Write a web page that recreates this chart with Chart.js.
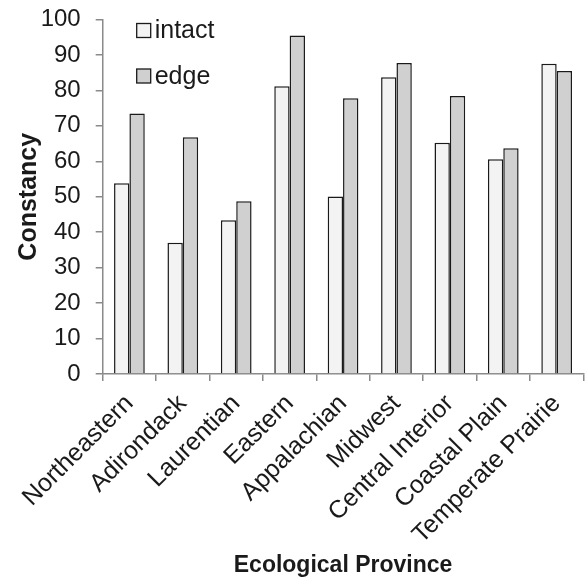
<!DOCTYPE html>
<html>
<head>
<meta charset="utf-8">
<script src="https://cdn.jsdelivr.net/npm/chart.js@4/dist/chart.umd.min.js"></script>
<style>
  html, body { margin: 0; padding: 0; background: #fff; }
  #wrap { width: 586px; height: 581px; }
</style>
</head>
<body>
<div id="wrap"><canvas id="myChart" width="586" height="581"></canvas></div>
<script>
const provinces = ["Northeastern", "Adirondack", "Laurentian", "Eastern", "Appalachian",
                   "Midwest", "Central Interior", "Coastal Plain", "Temperate Prairie"];
const intact = [53.8, 37.0, 43.4, 81.2, 50.1, 83.7, 65.2, 60.6, 87.5];
const edge   = [73.5, 66.8, 48.7, 95.5, 77.8, 87.7, 78.4, 63.7, 85.5];
const yTicks = [0, 10, 20, 30, 40, 50, 60, 70, 80, 90, 100];

const fontName = "'Liberation Sans', Arial, sans-serif";
const axisGray = "#8a8a8a";

// legend drawn inside the plot area, top left
const insideLegend = {
    id: "insideLegend",
    afterDraw(chart) {
        const ctx = chart.ctx;
        const area = chart.chartArea;
        ctx.save();
        ctx.font = "25px " + fontName;
        ctx.textBaseline = "middle";
        chart.data.datasets.forEach((ds, i) => {
            const x = area.left + 34;
            const y = area.top + 4 + i * 45.5;
            ctx.fillStyle = ds.backgroundColor;
            ctx.fillRect(x, y, 14, 14);
            ctx.strokeStyle = "#1a1a1a";
            ctx.lineWidth = 1.3;
            ctx.strokeRect(x, y, 14, 14);
            ctx.fillStyle = "#1a1a1a";
            ctx.fillText(ds.label, x + 18, y + 8);
        });
        ctx.restore();
    }
};

new Chart(document.getElementById("myChart").getContext("2d"), {
    type: "bar",
    data: {
        labels: provinces,
        datasets: [{
            label: "intact",
            data: intact,
            backgroundColor: "#f3f3f3",
            borderColor: "#1a1a1a",
            borderWidth: 1.5,
            borderSkipped: "bottom"
        }, {
            label: "edge",
            data: edge,
            backgroundColor: "#cfd0cf",
            borderColor: "#1a1a1a",
            borderWidth: 1.5,
            borderSkipped: "bottom"
        }]
    },
    options: {
        responsive: false,
        animation: false,
        layout: { padding: { top: 19.5, right: 2, left: 0, bottom: 0 } },
        datasets: { bar: { categoryPercentage: 0.575, barPercentage: 1.0 } },
        plugins: {
            legend: { display: false },
            tooltip: { enabled: false }
        },
        scales: {
            x: {
                grid: { display: true, drawOnChartArea: false, color: axisGray, lineWidth: 1.5, tickLength: 7, offset: true },
                border: { color: axisGray, width: 1.5 },
                ticks: {
                    color: "#1a1a1a",
                    font: { family: fontName, size: 25 },
                    maxRotation: 45, minRotation: 45,
                    padding: 8
                },
                title: {
                    display: true,
                    text: "Ecological Province",
                    color: "#1a1a1a",
                    font: { family: fontName, size: 23, weight: "bold" },
                    padding: { top: 4, bottom: 2 }
                },
                afterFit: (scale) => { scale.height = 207; }
            },
            y: {
                min: 0, max: 100,
                afterBuildTicks: (scale) => { scale.ticks = yTicks.map(v => ({ value: v })); },
                grid: { display: true, drawOnChartArea: false, color: axisGray, lineWidth: 1.5, tickLength: 7 },
                border: { color: axisGray, width: 1.5 },
                ticks: {
                    color: "#1a1a1a",
                    font: { family: fontName, size: 24 },
                    padding: 15
                },
                title: {
                    display: true,
                    text: "Constancy",
                    color: "#1a1a1a",
                    font: { family: fontName, size: 25, weight: "bold" },
                    padding: { top: 14, bottom: 2 }
                },
                afterFit: (scale) => {
                    scale.width = 102.7;
                    scale.paddingTop = 0;
                    scale.paddingBottom = 0;
                }
            }
        }
    },
    plugins: [insideLegend]
});
</script>
</body>
</html>
